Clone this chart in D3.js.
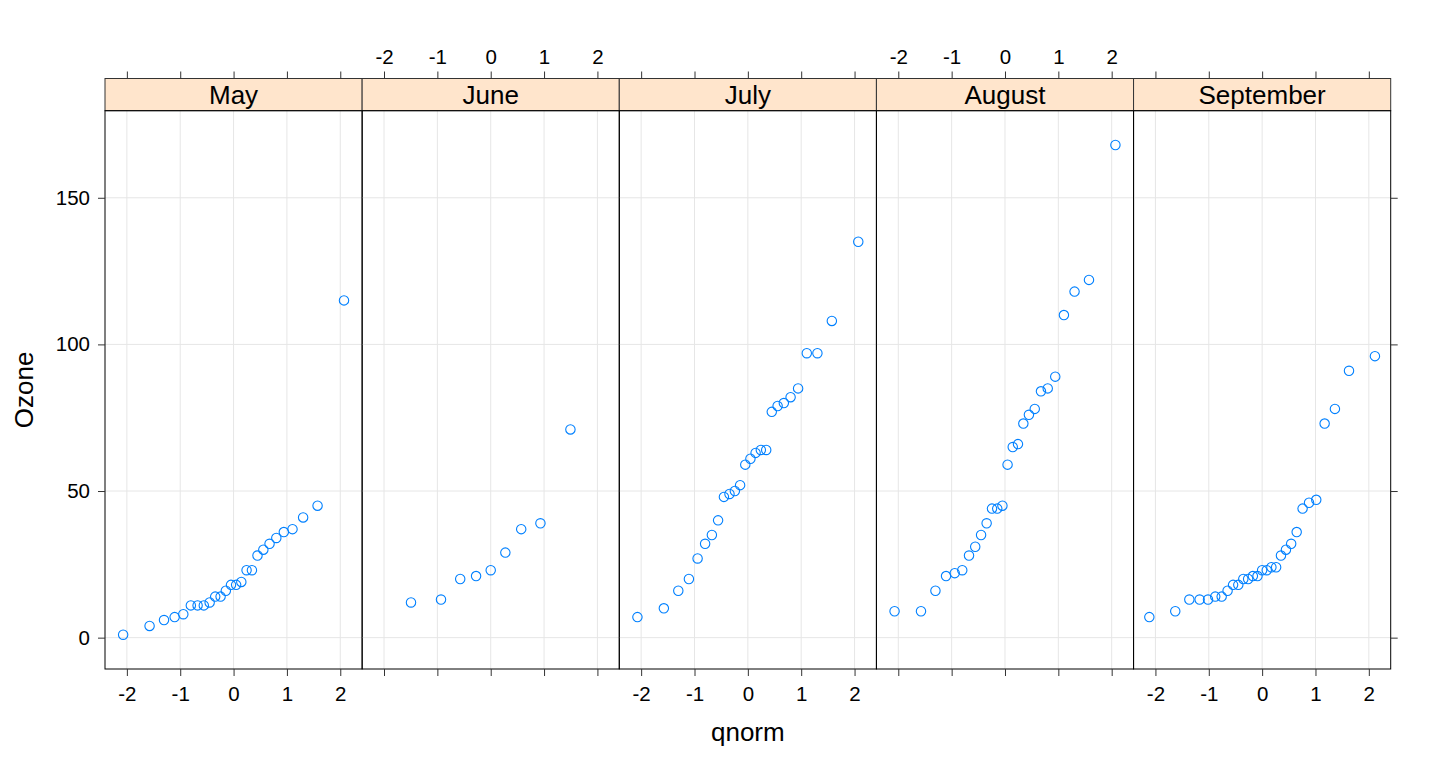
<!DOCTYPE html>
<html><head><meta charset="utf-8">
<script src="https://cdn.jsdelivr.net/npm/d3@7"></script>
<style>body{margin:0;background:#fff}svg{display:block}text{font-family:"Liberation Sans",Arial,sans-serif}</style>
</head><body><svg id="c" width="1440" height="768"></svg>
<script>
const months = ["May","June","July","August","September"];
const ozoneMay = [1,4,6,7,8,11,11,11,12,14,14,16,18,18,19,23,23,28,30,32,34,36,37,41,45,115];
const ozoneJune = [12,13,20,21,23,29,37,39,71];
const ozoneJuly = [7,10,16,20,27,32,35,40,48,49,50,52,59,61,63,64,64,77,79,80,82,85,97,97,108,135];
const ozoneAugust = [9,9,16,21,22,23,28,31,35,39,44,44,45,59,65,66,73,76,78,84,85,89,110,118,122,168];
const ozoneSeptember = [7,9,13,13,13,14,14,16,18,18,20,20,21,21,23,23,24,24,28,30,32,36,44,46,47,73,78,91,96];
const series = [ozoneMay, ozoneJune, ozoneJuly, ozoneAugust, ozoneSeptember];
const xTicks = [-2,-1,0,1,2];
const yTicks = [0,50,100,150];

// ppoints + qnorm (R's qqmath)
function qnorm(p){
  const a=[-3.969683028665376e+01,2.209460984245205e+02,-2.759285104469687e+02,1.383577518672690e+02,-3.066479806614716e+01,2.506628277459239e+00];
  const b=[-5.447609879822406e+01,1.615858368580409e+02,-1.556989798598866e+02,6.680131188771972e+01,-1.328068155288572e+01];
  const c=[-7.784894002430293e-03,-3.223964580411365e-01,-2.400758277161838e+00,-2.549732539343734e+00,4.374664141464968e+00,2.938163982698783e+00];
  const d=[7.784695709041462e-03,3.224671290700398e-01,2.445134137142996e+00,3.754408661907416e+00];
  const pl=0.02425, ph=1-pl; let q,r;
  if(p<pl){q=Math.sqrt(-2*Math.log(p));return (((((c[0]*q+c[1])*q+c[2])*q+c[3])*q+c[4])*q+c[5])/((((d[0]*q+d[1])*q+d[2])*q+d[3])*q+1);}
  if(p<=ph){q=p-0.5;r=q*q;return (((((a[0]*r+a[1])*r+a[2])*r+a[3])*r+a[4])*r+a[5])*q/(((((b[0]*r+b[1])*r+b[2])*r+b[3])*r+b[4])*r+1);}
  q=Math.sqrt(-2*Math.log(1-p));return -(((((c[0]*q+c[1])*q+c[2])*q+c[3])*q+c[4])*q+c[5])/((((d[0]*q+d[1])*q+d[2])*q+d[3])*q+1);
}
function ppoints(n){const a=n<=10?3/8:0.5;return d3.range(1,n+1).map(i=>(i-a)/(n+1-2*a));}

const svg = d3.select("#c");
const pLeft=105, pRight=1390.7, pTop=110.7, pBottom=669, stripTop=78.5;
const pw=(pRight-pLeft)/5;
const xs = d3.scaleLinear().domain([-2.41,2.41]);
const y = d3.scaleLinear().domain([-10.69,179.69]).range([pBottom,pTop]);
const grid="#e6e6e6", blue="#0080ff";
const FF="Liberation Sans, Arial, sans-serif";
const tickFS=20.5, labFS=26;
const fmt = d=>String(d);

months.forEach((m,i)=>{
  const x0 = pLeft+i*pw;
  const x = xs.copy().range([x0,x0+pw]);
  const g = svg.append("g");
  g.selectAll(".gx").data(xTicks).join("line").attr("class","gx").attr("x1",d=>x(d)).attr("x2",d=>x(d)).attr("y1",pTop).attr("y2",pBottom).attr("stroke",grid).attr("stroke-width",1);
  g.selectAll(".gy").data(yTicks).join("line").attr("class","gy").attr("x1",x0).attr("x2",x0+pw).attr("y1",d=>y(d)).attr("y2",d=>y(d)).attr("stroke",grid).attr("stroke-width",1);
  const vals = series[i]; const pp = ppoints(vals.length);
  g.selectAll("circle").data(vals).join("circle")
    .attr("cx",(d,k)=>x(qnorm(pp[k]))).attr("cy",d=>y(d)).attr("r",4.7)
    .attr("fill","none").attr("stroke",blue).attr("stroke-width",1.1);
  g.append("rect").attr("x",x0).attr("y",stripTop).attr("width",pw).attr("height",pTop-stripTop).attr("fill","#ffe5cc").attr("stroke","#333").attr("stroke-width",1);
  g.append("text").attr("x",x0+pw/2).attr("y",(stripTop+pTop)/2+9.3).attr("text-anchor","middle").attr("font-size",labFS).text(m);
  g.append("rect").attr("x",x0).attr("y",pTop).attr("width",pw).attr("height",pBottom-pTop).attr("fill","none").attr("stroke","#000").attr("stroke-width",1);
  const bAx = g.append("g").attr("transform",`translate(0,${pBottom})`)
    .call(d3.axisBottom(x).tickValues(xTicks).tickSize(7).tickFormat(i%2===0?fmt:()=>""));
  const tAx = g.append("g").attr("transform",`translate(0,${stripTop})`)
    .call(d3.axisTop(x).tickValues(xTicks).tickSize(7).tickFormat(i%2===1?fmt:()=>""));
  [bAx,tAx].forEach(a=>{a.select(".domain").remove();a.selectAll("line").attr("stroke","#333");a.selectAll("text").attr("font-size",tickFS).attr("fill","#000").style("font-family",FF);});
  bAx.selectAll("text").attr("y",32).attr("dy",null);
  tAx.selectAll("text").attr("y",-14.5).attr("dy",null);
  if(i===0){
    const lAx = g.append("g").attr("transform",`translate(${x0},0)`).call(d3.axisLeft(y).tickValues(yTicks).tickSize(7).tickPadding(8).tickFormat(fmt));
    lAx.select(".domain").remove(); lAx.selectAll("line").attr("stroke","#333");
    lAx.selectAll("text").attr("font-size",tickFS).attr("fill","#000").style("font-family",FF);
  }
  if(i===4){
    const rAx = g.append("g").attr("transform",`translate(${x0+pw},0)`).call(d3.axisRight(y).tickValues(yTicks).tickSize(7).tickFormat(()=>""));
    rAx.select(".domain").remove(); rAx.selectAll("line").attr("stroke","#333");
  }
});
svg.append("text").attr("x",(pLeft+pRight)/2).attr("y",741).attr("text-anchor","middle").attr("font-size",labFS).text("qnorm");
svg.append("text").attr("transform",`translate(32.5,${(pTop+pBottom)/2}) rotate(-90)`).attr("text-anchor","middle").attr("font-size",labFS).text("Ozone");
</script></body></html>
